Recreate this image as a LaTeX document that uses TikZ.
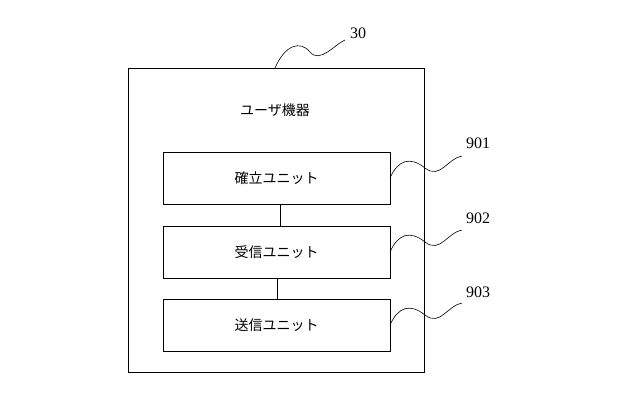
\documentclass[tikz,border=0pt]{standalone}
\usepackage{fontspec}
\setmainfont{Liberation Serif}
\newfontfamily\cjk{Noto Sans CJK JP}
\tikzset{
  unitbox/.style={draw, line width=0.6pt, minimum width=227pt, minimum height=52pt, font=\cjk\fontsize{14}{16}\selectfont},
  lbl/.style={font=\fontsize{16}{18}\selectfont},
  lead/.style={line width=0.6pt}
}
\begin{document}
\begin{tikzpicture}[x=1pt,y=-1pt]
\useasboundingbox (0,0) rectangle (622,402);
\draw[line width=0.7pt] (128,68) rectangle (424,372);
\node[font=\cjk\fontsize{14}{16}\selectfont] (title) at (275,110) {ユーザ機器};
\node[unitbox] (u1) at (276.5,178.5) {確立ユニット};
\node[unitbox] (u2) at (276.5,252.5) {受信ユニット};
\node[unitbox] (u3) at (276.5,325.5) {送信ユニット};
\draw[lead] (u1.south -| 280,0) -- (u2.north -| 280,0);
\draw[lead] (u2.south -| 277,0) -- (u3.north -| 277,0);
\node[lbl] (n30) at (358,33) {30};
\node[lbl] (n901) at (478,143) {901};
\node[lbl] (n902) at (478,218) {902};
\node[lbl] (n903) at (478,292) {903};
\coordinate (c30) at (275,68);
\coordinate (e30) at (345,40);
\draw[lead] (c30) .. controls (285,45) and (300,40) .. (310,52) .. controls (320,64) and (335,44) .. (e30);
\foreach \u/\n/\y in {u1/901/178, u2/902/252, u3/903/325}{
  \coordinate (s\n) at (390,\y);
  \coordinate (e\n) at (462,\y-22);
  \draw[lead] (s\n) .. controls (398,\y-18) and (410,\y-22) .. (425,\y-10) .. controls (440,\y+2) and (448,\y-20) .. (e\n);
}
\end{tikzpicture}
\end{document}
